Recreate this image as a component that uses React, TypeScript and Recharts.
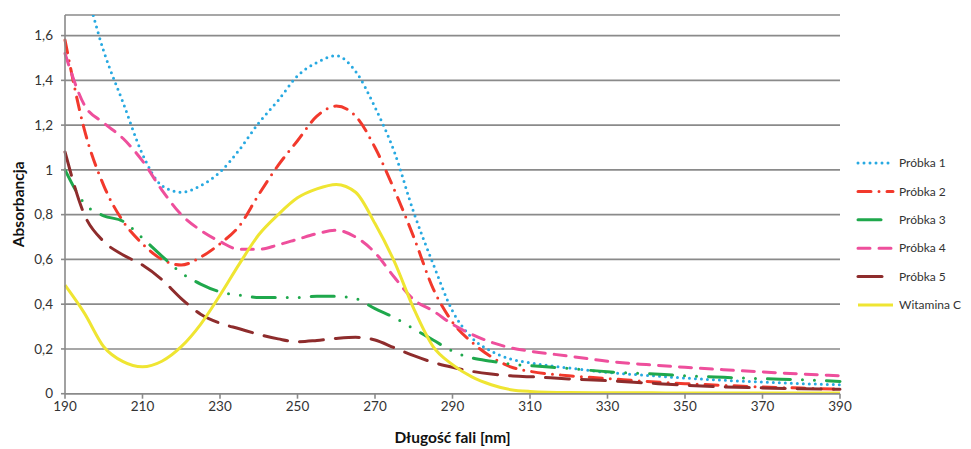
import React from 'react';
import { LineChart, Line, XAxis, YAxis, CartesianGrid } from 'recharts';

// Wavelengths (nm) at which the absorbance spectra were sampled
const wavelengths = [
  190, 195, 200, 205, 210, 215, 220, 225, 230, 235, 240, 245, 250, 255, 260, 265,
  270, 275, 280, 285, 290, 295, 300, 305, 310, 320, 330, 340, 350, 360, 370, 380, 390,
];

const probka1 = [
  2.1, 1.83, 1.53, 1.3, 1.07, 0.93, 0.9, 0.93, 0.99, 1.09, 1.21, 1.31, 1.42, 1.48, 1.51, 1.44,
  1.28, 1.08, 0.81, 0.58, 0.37, 0.25, 0.19, 0.155, 0.138, 0.115, 0.095, 0.082, 0.07, 0.06, 0.052, 0.045, 0.04,
];
const probka2 = [
  1.58, 1.18, 0.93, 0.77, 0.67, 0.6, 0.575, 0.61, 0.67, 0.75, 0.89, 1.02, 1.13, 1.24, 1.285, 1.24,
  1.1, 0.91, 0.7, 0.47, 0.32, 0.23, 0.165, 0.12, 0.1, 0.08, 0.068, 0.055, 0.045, 0.037, 0.03, 0.025, 0.02,
];
const probka3 = [
  1.0, 0.85, 0.795, 0.77, 0.695, 0.615, 0.54, 0.49, 0.455, 0.44, 0.43, 0.43, 0.43, 0.435, 0.435, 0.425,
  0.38, 0.34, 0.29, 0.24, 0.19, 0.16, 0.145, 0.132, 0.125, 0.113, 0.098, 0.09, 0.08, 0.073, 0.067, 0.062, 0.055,
];
const probka4 = [
  1.52, 1.29, 1.21, 1.14, 1.04, 0.91, 0.8, 0.73, 0.68, 0.645, 0.645, 0.665, 0.69, 0.715, 0.73, 0.7,
  0.63, 0.52, 0.42, 0.37, 0.31, 0.265, 0.23, 0.205, 0.19, 0.168, 0.145, 0.13, 0.118, 0.107, 0.097, 0.088, 0.08,
];
const probka5 = [
  1.08, 0.8, 0.68, 0.62, 0.575, 0.51, 0.425, 0.355, 0.315, 0.29, 0.265, 0.245, 0.232, 0.238, 0.247, 0.252,
  0.24, 0.205, 0.17, 0.14, 0.118, 0.1, 0.088, 0.08, 0.076, 0.066, 0.058, 0.048, 0.038, 0.03, 0.026, 0.022, 0.02,
];
const witaminaC = [
  0.485, 0.36, 0.21, 0.143, 0.12, 0.145, 0.21, 0.31, 0.44, 0.58, 0.71, 0.8, 0.875, 0.915, 0.935, 0.9,
  0.76, 0.59, 0.38, 0.21, 0.13, 0.075, 0.04, 0.018, 0.01, 0.005, 0.004, 0.004, 0.003, 0.003, 0.003, 0.003, 0.003,
];

const xTicks = [190, 210, 230, 250, 270, 290, 310, 330, 350, 370, 390];
const yTicks = [0, 0.2, 0.4, 0.6, 0.8, 1, 1.2, 1.4, 1.6];

const seriesNames = ['Próbka 1', 'Próbka 2', 'Próbka 3', 'Próbka 4', 'Próbka 5', 'Witamina C'];
const seriesValues = [probka1, probka2, probka3, probka4, probka5, witaminaC];

const seriesStyles = [
  { color: '#27a9e1', dash: '0 6' },
  { color: '#f2392c', dash: '13 8 0 8' },
  { color: '#1fa84c', dash: '23 12 0 12 0 12' },
  { color: '#ee4f9c', dash: '12 9' },
  { color: '#8e2c2c', dash: '24 12' },
  { color: '#efe532', dash: undefined as string | undefined },
];

const rows = wavelengths.map((nm, i) => {
  const row: Record<string, number> = { nm };
  seriesNames.forEach((name, s) => {
    row[name] = seriesValues[s][i];
  });
  return row;
});

const formatY = (v: number) => String(Number(v.toFixed(1))).replace('.', ',');

// Legend drawn to the right of the plot area
const LegendBox = () => (
  <svg width={121} height={165} style={{ position: 'absolute', left: 848, top: 155 }}>
    {seriesNames.map((name, i) => {
      const y = 8 + i * 28.4;
      const st = seriesStyles[i];
      return (
        <g key={name}>
          <line
            x1={10}
            x2={45}
            y1={y}
            y2={y}
            stroke={st.color}
            strokeWidth={3}
            strokeDasharray={st.dash}
            strokeLinecap={st.dash ? 'round' : 'butt'}
          />
          <text x={51} y={y} dy="0.35em" fontSize={12} fill="#333">
            {name}
          </text>
        </g>
      );
    })}
  </svg>
);

export default function App() {
  return (
    <div
      style={{
        position: 'absolute',
        left: 0,
        top: 0,
        width: 971,
        height: 449,
        background: '#fff',
        fontFamily: 'Lato, "Open Sans", sans-serif',
      }}
    >
      <LineChart width={971} height={449} data={rows} margin={{ top: 15, right: 131, bottom: 0, left: 0 }}>
        <CartesianGrid vertical={false} stroke="#8a8a8a" strokeWidth={1.6} />
        <XAxis
          dataKey="nm"
          type="number"
          domain={[190, 390]}
          ticks={xTicks}
          height={55.3}
          stroke="#8a8a8a"
          strokeWidth={1.6}
          tickSize={5}
          tickMargin={3}
          tick={{ fill: '#333', fontSize: 13.5 }}
          label={{
            content: ({ viewBox }: any) => (
              <text
                x={viewBox.x + viewBox.width / 2}
                y={438}
                dy="0.35em"
                textAnchor="middle"
                fontSize={15.5}
                fontWeight="bold"
                fill="#111"
              >
                Długość fali [nm]
              </text>
            ),
          }}
        />
        <YAxis
          type="number"
          domain={[0, 1.692]}
          allowDataOverflow
          ticks={yTicks}
          width={65}
          stroke="#8a8a8a"
          strokeWidth={1.6}
          tickSize={4}
          tickMargin={8}
          tickFormatter={formatY}
          tick={{ fill: '#333', fontSize: 13.5 }}
          label={{
            content: ({ viewBox }: any) => {
              const cx = 19;
              const cy = viewBox.y + viewBox.height / 2;
              return (
                <text
                  x={cx}
                  y={cy}
                  dy="0.35em"
                  textAnchor="middle"
                  fontSize={15.5}
                  fontWeight="bold"
                  fill="#111"
                  transform={`rotate(-90, ${cx}, ${cy})`}
                >
                  Absorbancja
                </text>
              );
            },
          }}
        />
        {seriesNames.map((name, i) => (
          <Line
            key={name}
            dataKey={name}
            type="monotone"
            stroke={seriesStyles[i].color}
            strokeWidth={3}
            strokeDasharray={seriesStyles[i].dash}
            strokeLinecap={seriesStyles[i].dash ? 'round' : 'butt'}
            dot={false}
            activeDot={false}
            isAnimationActive={false}
          />
        ))}
      </LineChart>
      <LegendBox />
    </div>
  );
}
